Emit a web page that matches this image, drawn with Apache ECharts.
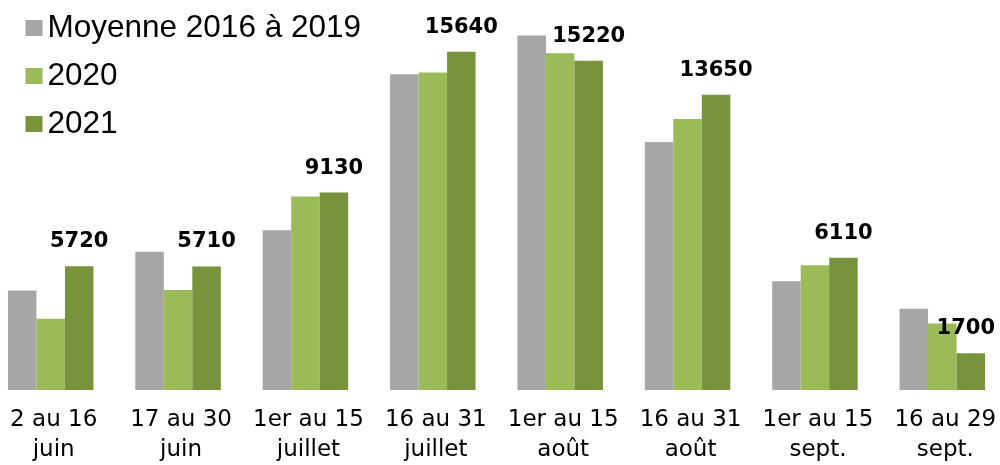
<!DOCTYPE html>
<html>
<head>
<meta charset="utf-8">
<script src="https://cdn.jsdelivr.net/npm/echarts@6/dist/echarts.min.js"></script>
<style>
html,body{margin:0;padding:0;background:#fff;overflow:hidden;}
/* plot area runs a little past both edges of the picture */
#main{width:1020px;height:465px;margin-left:-13px;}
</style>
</head>
<body>
<div id="main"></div>
<script>
var categories = ['2 au 16\njuin','17 au 30\njuin','1er au 15\njuillet','16 au 31\njuillet',
    '1er au 15\naoût','16 au 31\naoût','1er au 15\nsept.','16 au 29\nsept.'];
var seriesNames = ['Moyenne 2016 à 2019','2020','2021'];
var moyenne = [4600, 6390, 7390, 14600, 16390, 11470, 5030, 3760];
var v2020 = [3300, 4630, 8950, 14680, 15570, 12530, 5770, 3070];
var v2021 = [5720, 5710, 9130, 15640, 15220, 13650, 6110, 1700];
var colors = ['#A6A6A6','#9BBB59','#77933C'];

var dom = document.getElementById('main');
var myChart = echarts.init(dom);

// last label is nudged left so it stays inside the picture
var data2021 = [];
for (var i = 0; i < v2021.length; i++) {
    var item = {value: v2021[i]};
    if (i == v2021.length - 1) item.label = {offset: [-5, 0]};
    data2021.push(item);
}

myChart.setOption({
    animation:false,
    color:colors,
    legend:{
        orient:'vertical', left:33.5, top:7,
        icon:'rect', itemWidth:17, itemHeight:16, itemGap:16,
        textStyle:{fontFamily:'Liberation Sans', fontSize:31.5, lineHeight:31, color:'#000'},
        data:seriesNames
    },
    grid:{left:-0.2, width:1019.2, top:0.75, bottom:74.3},
    xAxis:{
        type:'category', data:categories,
        axisLine:{show:false}, axisTick:{show:false},
        axisLabel:{interval:0, margin:15, padding:[0,0,0,6], fontFamily:'DejaVu Sans', fontSize:23, lineHeight:30, color:'#000'}
    },
    yAxis:{type:'value', show:false, min:0, max:18000, splitLine:{show:false}},
    series:[
        {name:seriesNames[0], type:'bar', barWidth:28.5, barGap:'0%', data:moyenne},
        {name:seriesNames[1], type:'bar', barWidth:28.5, barGap:'0%', data:v2020},
        {name:seriesNames[2], type:'bar', barWidth:28.5, barGap:'0%', data:data2021,
            label:{show:true, position:'top', distance:14, fontFamily:'DejaVu Sans', fontWeight:'bold', fontSize:21, color:'#000'}}
    ]
});
</script>
</body>
</html>
